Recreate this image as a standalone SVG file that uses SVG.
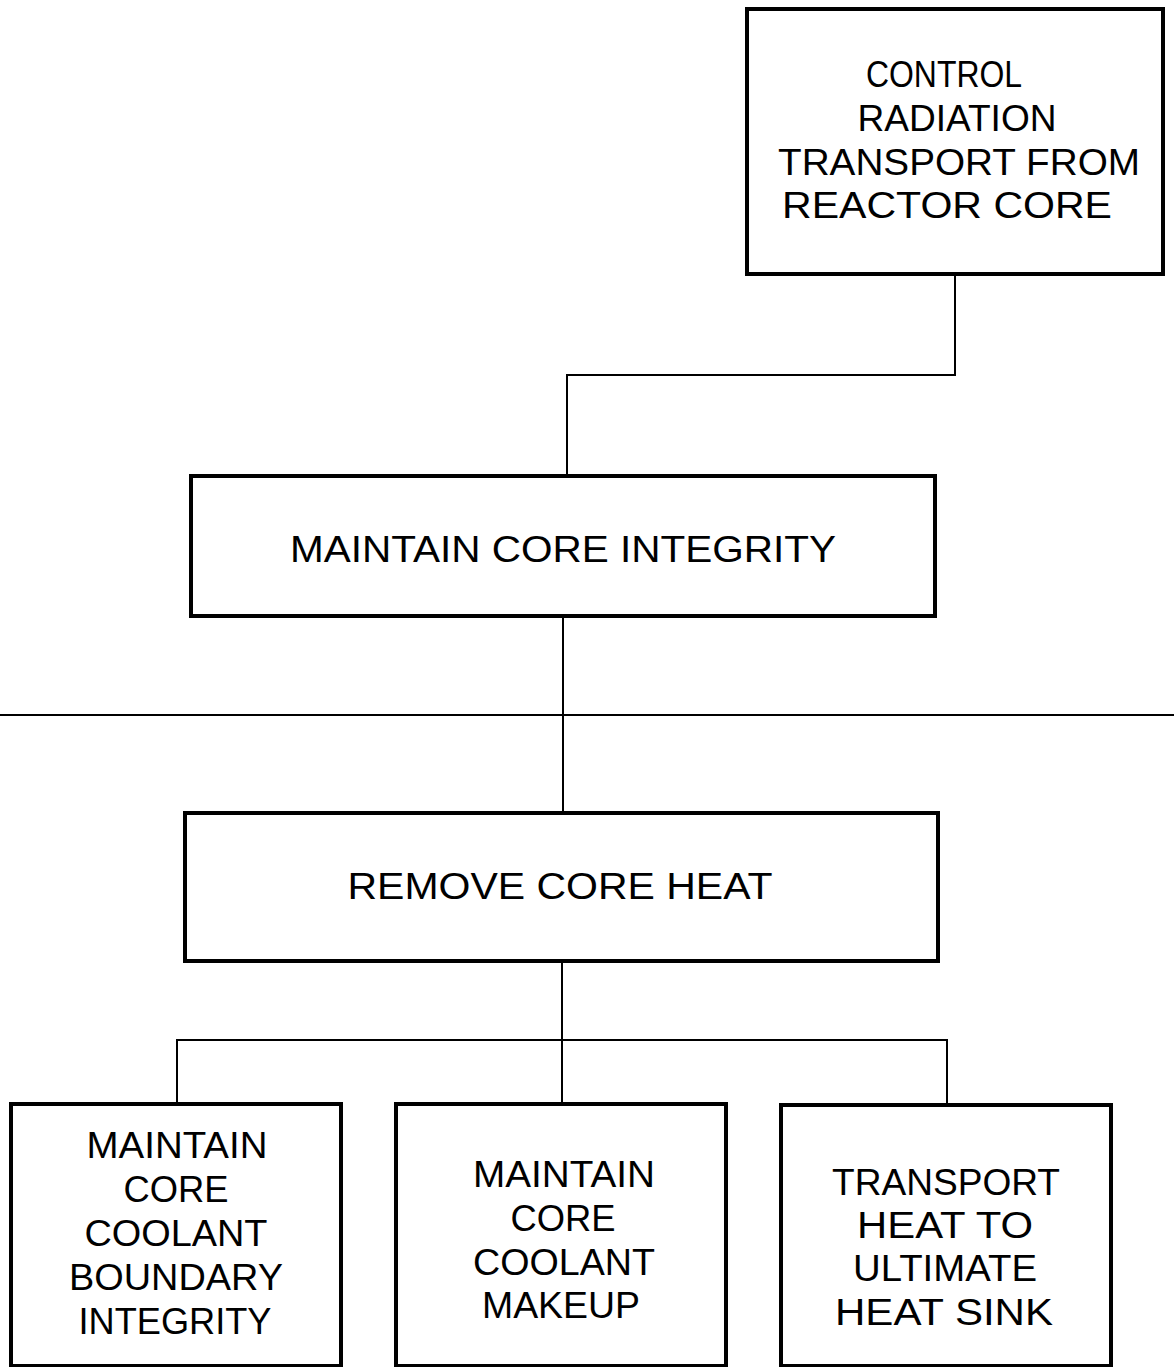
<svg xmlns="http://www.w3.org/2000/svg" width="1174" height="1367" viewBox="0 0 1174 1367">
<style>
.box{fill:#fff;stroke:#000;stroke-width:4}
.conn{fill:none;stroke:#000;stroke-width:2}
text{font-family:"Liberation Sans","DejaVu Sans",sans-serif;font-size:36px;fill:#000;text-anchor:middle}
</style>
<rect width="1174" height="1367" fill="#fff"/>
<g id="connectors">
<polyline class="conn" points="955,275 955,375 567,375 567,476"/>
<line class="conn" x1="563" y1="616" x2="563" y2="812"/>
<line class="conn" x1="0" y1="715" x2="1174" y2="715"/>
<polyline class="conn" points="177,1103 177,1040 947,1040 947,1104"/>
<line class="conn" x1="562" y1="962" x2="562" y2="1103"/>
</g>
<g id="n1">
<rect class="box" x="747" y="9" width="416" height="265"/>
<text x="944" y="87" textLength="156" lengthAdjust="spacingAndGlyphs">CONTROL</text>
<text x="957" y="131" textLength="199" lengthAdjust="spacingAndGlyphs">RADIATION</text>
<text x="959" y="175" textLength="362" lengthAdjust="spacingAndGlyphs">TRANSPORT FROM</text>
<text x="947" y="218" textLength="330" lengthAdjust="spacingAndGlyphs">REACTOR CORE</text>
</g>
<g id="n2">
<rect class="box" x="191" y="476" width="744" height="140"/>
<text x="563" y="562" textLength="546" lengthAdjust="spacingAndGlyphs">MAINTAIN CORE INTEGRITY</text>
</g>
<g id="n3">
<rect class="box" x="185" y="813" width="753" height="148" stroke-width="5"/>
<text x="560" y="899" textLength="425" lengthAdjust="spacingAndGlyphs">REMOVE CORE HEAT</text>
</g>
<g id="n4">
<rect class="box" x="11" y="1104" width="330" height="262"/>
<text x="177" y="1158" textLength="181" lengthAdjust="spacingAndGlyphs">MAINTAIN</text>
<text x="176" y="1202" textLength="105" lengthAdjust="spacingAndGlyphs">CORE</text>
<text x="176" y="1246" textLength="183" lengthAdjust="spacingAndGlyphs">COOLANT</text>
<text x="176" y="1290" textLength="214" lengthAdjust="spacingAndGlyphs">BOUNDARY</text>
<text x="175" y="1334" textLength="193" lengthAdjust="spacingAndGlyphs">INTEGRITY</text>
</g>
<g id="n5">
<rect class="box" x="396" y="1104" width="330" height="262"/>
<text x="564" y="1187" textLength="182" lengthAdjust="spacingAndGlyphs">MAINTAIN</text>
<text x="563" y="1231" textLength="105" lengthAdjust="spacingAndGlyphs">CORE</text>
<text x="564" y="1275" textLength="182" lengthAdjust="spacingAndGlyphs">COOLANT</text>
<text x="561" y="1318" textLength="158" lengthAdjust="spacingAndGlyphs">MAKEUP</text>
</g>
<g id="n6">
<rect class="box" x="781" y="1105" width="330" height="261"/>
<text x="946" y="1195" textLength="228" lengthAdjust="spacingAndGlyphs">TRANSPORT</text>
<text x="945" y="1238" textLength="176" lengthAdjust="spacingAndGlyphs">HEAT TO</text>
<text x="945" y="1281" textLength="184" lengthAdjust="spacingAndGlyphs">ULTIMATE</text>
<text x="944" y="1325" textLength="218" lengthAdjust="spacingAndGlyphs">HEAT SINK</text>
</g>
</svg>
